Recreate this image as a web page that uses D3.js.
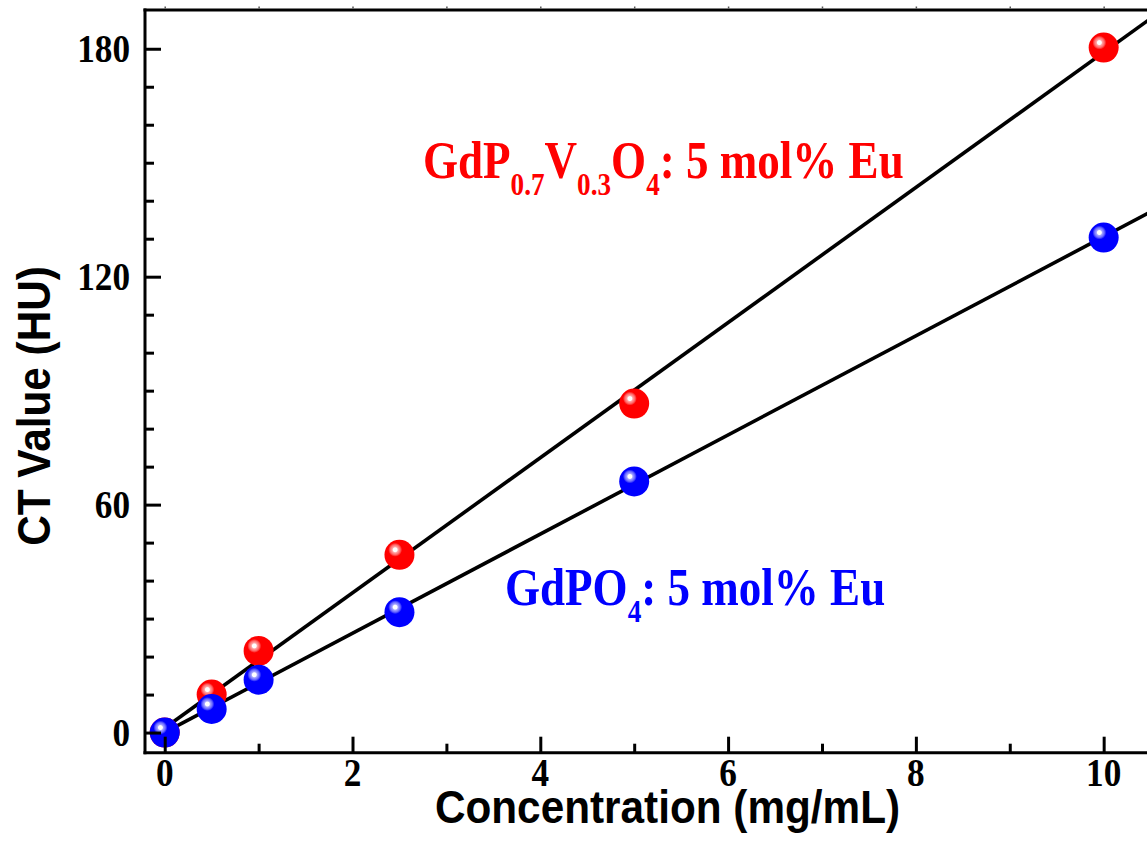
<!DOCTYPE html>
<html>
<head>
<meta charset="utf-8">
<script src="https://cdn.jsdelivr.net/npm/d3@7"></script>
<style>
  html, body { margin: 0; padding: 0; background: #fff; }
  svg { display: block; }
</style>
</head>
<body>
<script>
// ---- data ----
const concentrations = [0, 0.5, 1, 2.5, 5, 10];
const ctGdPVO = [0, 10, 21.5, 46.8, 86.6, 180.3];   // red, GdP0.7V0.3O4: 5 mol% Eu
const ctGdPO  = [0, 6.2, 13.9, 31.7, 66.1, 130.3];  // blue, GdPO4: 5 mol% Eu
const xTickValues = [0, 2, 4, 6, 8, 10];
const xMinorValues = [1, 3, 5, 7, 9];
const yTickValues = [0, 60, 120, 180];
const yMinorValues = [10, 20, 30, 40, 50, 70, 80, 90, 100, 110, 130, 140, 150, 160, 170];
const xTitle = "Concentration (mg/mL)";
const yTitle = "CT Value (HU)";

const W = 1147, H = 848;
const pLeft = 145, pTop = 10, pBottom = 752.7, pRight = 1160;

const svg = d3.select("body").append("svg").attr("width", W).attr("height", H);

const x = d3.scaleLinear().domain([-0.21, 10.6]).range([pLeft, pRight]);
const y = d3.scaleLinear().domain([-5.3, 190.2]).range([pBottom, pTop]);

const defs = svg.append("defs");
defs.append("clipPath").attr("id", "plotclip")
  .append("rect").attr("x", pLeft).attr("y", pTop).attr("width", pRight - pLeft).attr("height", pBottom - pTop);
const hg = defs.append("radialGradient").attr("id", "hl");
hg.append("stop").attr("offset", "0%").attr("stop-color", "#fff").attr("stop-opacity", 1);
hg.append("stop").attr("offset", "28%").attr("stop-color", "#fff").attr("stop-opacity", 1);
hg.append("stop").attr("offset", "42%").attr("stop-color", "#fff").attr("stop-opacity", 0.65);
hg.append("stop").attr("offset", "72%").attr("stop-color", "#fff").attr("stop-opacity", 0.4);
hg.append("stop").attr("offset", "100%").attr("stop-color", "#fff").attr("stop-opacity", 0);

// ---- linear fits (least squares) ----
function fit(xs, ys) {
  const mx = d3.mean(xs), my = d3.mean(ys);
  let sxy = 0, sxx = 0;
  xs.forEach((v, i) => { sxy += (v - mx) * (ys[i] - my); sxx += (v - mx) * (v - mx); });
  const m = sxy / sxx;
  return { m, b: my - m * mx };
}
const series = [
  { vals: ctGdPVO, color: "#ff0000" },
  { vals: ctGdPO, color: "#0000ff" }
];
const gLines = svg.append("g").attr("clip-path", "url(#plotclip)");
series.forEach(s => {
  const f = fit(concentrations, s.vals);
  const xe = x.domain()[1];
  gLines.append("line")
    .attr("x1", x(0)).attr("y1", y(f.b))
    .attr("x2", x(xe)).attr("y2", y(f.b + f.m * xe))
    .attr("stroke", "#000").attr("stroke-width", 3.6);
});

// ---- markers ----
const gPts = svg.append("g").attr("clip-path", "url(#plotclip)");
series.forEach(s => {
  const g = gPts.append("g");
  concentrations.forEach((c, i) => {
    const cx = x(c), cy = y(s.vals[i]);
    g.append("circle").attr("cx", cx).attr("cy", cy).attr("r", 15).attr("fill", s.color);
    g.append("circle").attr("cx", cx - 4.3).attr("cy", cy - 5).attr("r", 7).attr("fill", "url(#hl)");
  });
});

// ---- axes frame ----
const frame = svg.append("g").attr("stroke", "#000").attr("stroke-width", 3).attr("fill", "none");
frame.append("line").attr("x1", pLeft).attr("x2", pLeft).attr("y1", pTop - 1.5).attr("y2", pBottom + 1.5);
frame.append("line").attr("x1", pLeft - 1.5).attr("x2", pRight).attr("y1", pBottom).attr("y2", pBottom);
frame.append("line").attr("x1", pLeft - 1.5).attr("x2", pRight).attr("y1", pTop).attr("y2", pTop);

// bottom axis ticks (inward)
const xAxis = d3.axisBottom(x).tickValues(xTickValues).tickSizeInner(-16).tickSizeOuter(0).tickFormat("");
const gx = svg.append("g").attr("transform", `translate(0,${pBottom})`).call(xAxis);
gx.select(".domain").remove();
gx.selectAll(".tick line").attr("stroke", "#000").attr("stroke-width", 3);
const xAxisMinor = d3.axisBottom(x).tickValues(xMinorValues).tickSizeInner(-9).tickSizeOuter(0).tickFormat("");
const gxm = svg.append("g").attr("transform", `translate(0,${pBottom})`).call(xAxisMinor);
gxm.select(".domain").remove();
gxm.selectAll(".tick line").attr("stroke", "#000").attr("stroke-width", 3);

// top axis tiny ticks
const xTop = d3.axisTop(x).tickValues(d3.range(0, 11)).tickSizeInner(2).tickSizeOuter(0).tickFormat("");
const gxt = svg.append("g").attr("transform", `translate(0,${pTop - 1.5})`).call(xTop);
gxt.select(".domain").remove();
gxt.selectAll(".tick line").attr("stroke", "#555").attr("stroke-width", 1.5);

// left axis ticks (inward)
const yAxis = d3.axisLeft(y).tickValues(yTickValues).tickSizeInner(-16).tickSizeOuter(0).tickFormat("");
const gy = svg.append("g").attr("transform", `translate(${pLeft},0)`).call(yAxis);
gy.select(".domain").remove();
gy.selectAll(".tick line").attr("stroke", "#000").attr("stroke-width", 3);
const yAxisMinor = d3.axisLeft(y).tickValues(yMinorValues).tickSizeInner(-9).tickSizeOuter(0).tickFormat("");
const gym = svg.append("g").attr("transform", `translate(${pLeft},0)`).call(yAxisMinor);
gym.select(".domain").remove();
gym.selectAll(".tick line").attr("stroke", "#000").attr("stroke-width", 3);

// ---- tick labels ----
const serif = "'Liberation Serif', 'Times New Roman', serif";
const sans = "'Liberation Sans', Arial, sans-serif";
xTickValues.forEach(v => {
  svg.append("g").attr("transform", `translate(${x(v)},786) scale(0.86,1)`)
    .append("text").attr("text-anchor", "middle")
    .attr("font-family", serif).attr("font-weight", "bold").attr("font-size", 41)
    .attr("fill", "#000").text(v);
});
yTickValues.forEach(v => {
  svg.append("g").attr("transform", `translate(130,${y(v) + 13.5}) scale(0.86,1)`)
    .append("text").attr("text-anchor", "end")
    .attr("font-family", serif).attr("font-weight", "bold").attr("font-size", 41)
    .attr("fill", "#000").text(v);
});

// ---- axis titles ----
svg.append("g").attr("transform", `translate(667.5,823) scale(0.9,1)`)
  .append("text").attr("text-anchor", "middle")
  .attr("font-family", sans).attr("font-weight", "bold").attr("font-size", 47)
  .attr("fill", "#000").text(xTitle);
svg.append("g").attr("transform", `translate(50,406) rotate(-90) scale(0.9,1)`)
  .append("text").attr("text-anchor", "middle")
  .attr("font-family", sans).attr("font-weight", "bold").attr("font-size", 47)
  .attr("fill", "#000").text(yTitle);

// ---- annotations ----
function formula(parts, tx, ty, color) {
  const t = svg.append("g").attr("transform", `translate(${tx},${ty}) scale(0.85,1)`)
    .append("text").attr("font-family", serif).attr("font-weight", "bold")
    .attr("font-size", 53).attr("fill", color);
  parts.forEach(p => {
    if (p.sub) {
      t.append("tspan").attr("font-size", 32).attr("dy", 17).text(p.t);
    } else {
      t.append("tspan").attr("dy", p.after ? -17 : 0).text(p.t);
    }
  });
}
formula([
  { t: "GdP" }, { t: "0.7", sub: true }, { t: "V", after: true }, { t: "0.3", sub: true },
  { t: "O", after: true }, { t: "4", sub: true }, { t: ": 5 mol% Eu", after: true }
], 423, 178, "#ff0000");
formula([
  { t: "GdPO" }, { t: "4", sub: true }, { t: ": 5 mol% Eu", after: true }
], 505, 605, "#0000ff");
</script>
</body>
</html>
